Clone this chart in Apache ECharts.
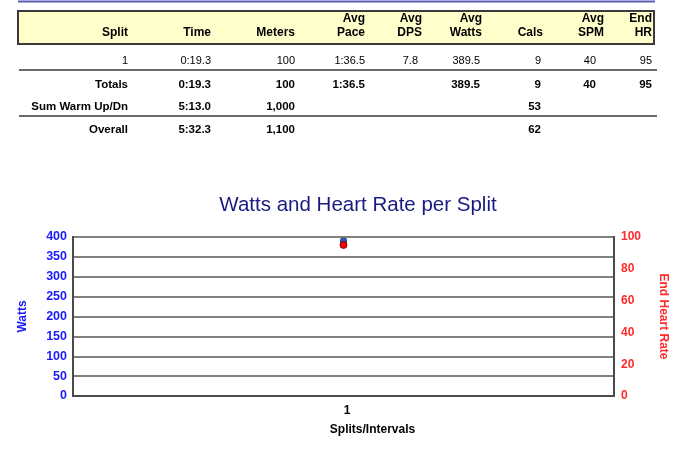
<!DOCTYPE html>
<html>
<head>
<meta charset="utf-8">
<script src="https://cdn.jsdelivr.net/npm/echarts@6/dist/echarts.min.js"></script>
<style>
html,body{margin:0;padding:0;background:#fff;}
#c{width:693px;height:457px;}
</style>
</head>
<body>
<div id="c"></div>
<script>
// ---- Table data ----
const headerLine1 = ['', '', '', 'Avg', 'Avg', 'Avg', '', 'Avg', 'End'];
const headerLine2 = ['Split', 'Time', 'Meters', 'Pace', 'DPS', 'Watts', 'Cals', 'SPM', 'HR'];
const splitRow    = ['1', '0:19.3', '100', '1:36.5', '7.8', '389.5', '9', '40', '95'];
const totalsRow   = ['Totals', '0:19.3', '100', '1:36.5', '', '389.5', '9', '40', '95'];
const warmRow     = ['Sum Warm Up/Dn', '5:13.0', '1,000', '', '', '', '53', '', ''];
const overallRow  = ['Overall', '5:32.3', '1,100', '', '', '', '62', '', ''];

// ---- Chart data ----
const categories = ['1'];
const watts = [389.5];
const endHR = [95];
const wattsTicks = {min: 0, max: 400, interval: 50};
const hrTicks = {min: 0, max: 100, interval: 20};

const FONT = '"Liberation Sans", Arial, Helvetica, sans-serif';
const headerRight = [128, 211, 295, 365, 422, 482, 543, 604, 652];
const dataRight   = [128, 211, 295, 365, 418, 480, 541, 596, 652];

const graphics = [];
graphics.push({type:'line', shape:{x1:18,y1:1.5,x2:655,y2:1.5}, style:{stroke:'#5c5cb8', lineWidth:2}});
graphics.push({type:'rect', shape:{x:18,y:11,width:636,height:33}, style:{fill:'#ffffcc', stroke:'#3a3a3a', lineWidth:2}});
graphics.push({type:'line', shape:{x1:19,y1:70,x2:657,y2:70}, style:{stroke:'#6a6a6a', lineWidth:2}});
graphics.push({type:'line', shape:{x1:19,y1:116,x2:657,y2:116}, style:{stroke:'#6a6a6a', lineWidth:2}});

function addRow(row, xs, y, bold, size) {
  row.forEach(function (t, i) {
    if (!t) return;
    graphics.push({type:'text', x: xs[i], y: y, style:{text:t, align:'right', verticalAlign:'middle',
      font: (bold ? 'bold ' : '') + size + 'px ' + FONT, fill:'#000'}});
  });
}
addRow(headerLine1, headerRight, 19, true, 12);
addRow(headerLine2, headerRight, 33, true, 12);
addRow(splitRow, dataRight, 61, false, 11);
addRow(totalsRow, dataRight, 85, true, 11.5);
addRow(warmRow, dataRight, 107, true, 11.5);
addRow(overallRow, dataRight, 130, true, 11.5);

const chart = echarts.init(document.getElementById('c'), null, {renderer:'canvas'});
chart.setOption({
  animation: false,
  backgroundColor: '#fff',
  title: {
    text: 'Watts and Heart Rate per Split',
    left: 353, top: 190, textAlign: 'center',
    textStyle: {color:'#1a1a80', fontSize:20.5, fontWeight:'normal', fontFamily: FONT}
  },
  grid: {left:73, right:79, top:237, bottom:61, show:true, borderColor:'#4a4a4a', borderWidth:2, backgroundColor:'#fff'},
  xAxis: {
    type:'category', data: categories, boundaryGap:true,
    axisLine:{show:true, lineStyle:{color:'#4a4a4a', width:2}},
    axisTick:{show:false},
    axisLabel:{color:'#000', fontWeight:'bold', fontSize:12, fontFamily:FONT, margin:9, padding:[0,0,0,7]},
    name:'Splits/Intervals', nameLocation:'middle', nameGap:28,
    nameTextStyle:{color:'#000', fontWeight:'bold', fontSize:12, fontFamily:FONT, padding:[0,0,0,58]}
  },
  yAxis: [{
    type:'value', min:wattsTicks.min, max:wattsTicks.max, interval:wattsTicks.interval, position:'left',
    axisLine:{show:true, lineStyle:{color:'#4a4a4a', width:2}},
    axisTick:{show:false},
    axisLabel:{color:'#1a1aff', fontWeight:'bold', fontSize:12.5, fontFamily:FONT, margin:6},
    splitLine:{show:true, lineStyle:{color:'#808080', width:1.8}},
    name:'Watts', nameLocation:'middle', nameGap:44,
    nameTextStyle:{color:'#1a1aff', fontWeight:'bold', fontSize:12, fontFamily:FONT}
  }, {
    type:'value', min:hrTicks.min, max:hrTicks.max, interval:hrTicks.interval, position:'right',
    axisLine:{show:true, lineStyle:{color:'#4a4a4a', width:2}},
    axisTick:{show:false},
    axisLabel:{color:'#ff2a2a', fontWeight:'bold', fontSize:12, fontFamily:FONT, margin:7},
    splitLine:{show:false},
    name:'End Heart Rate', nameLocation:'middle', nameGap:43, nameRotate:-90,
    nameTextStyle:{color:'#ff2a2a', fontWeight:'bold', fontSize:12, fontFamily:FONT}
  }],
  series: [{
    name:'Watts', type:'line', yAxisIndex:0, data: watts,
    symbol:'roundRect', symbolSize:[6,6], itemStyle:{color:'#1f5fd0', borderColor:'#1a2a60', borderWidth:0.8},
    lineStyle:{color:'#1f5fd0'}, z:2
  }, {
    name:'End HR', type:'line', yAxisIndex:1, data: endHR,
    symbol:'circle', symbolSize:7, itemStyle:{color:'#ff0000', borderColor:'#5a0000', borderWidth:0.8},
    lineStyle:{color:'#ff0000'}, z:3
  }],
  graphic: graphics
});
</script>
</body>
</html>
